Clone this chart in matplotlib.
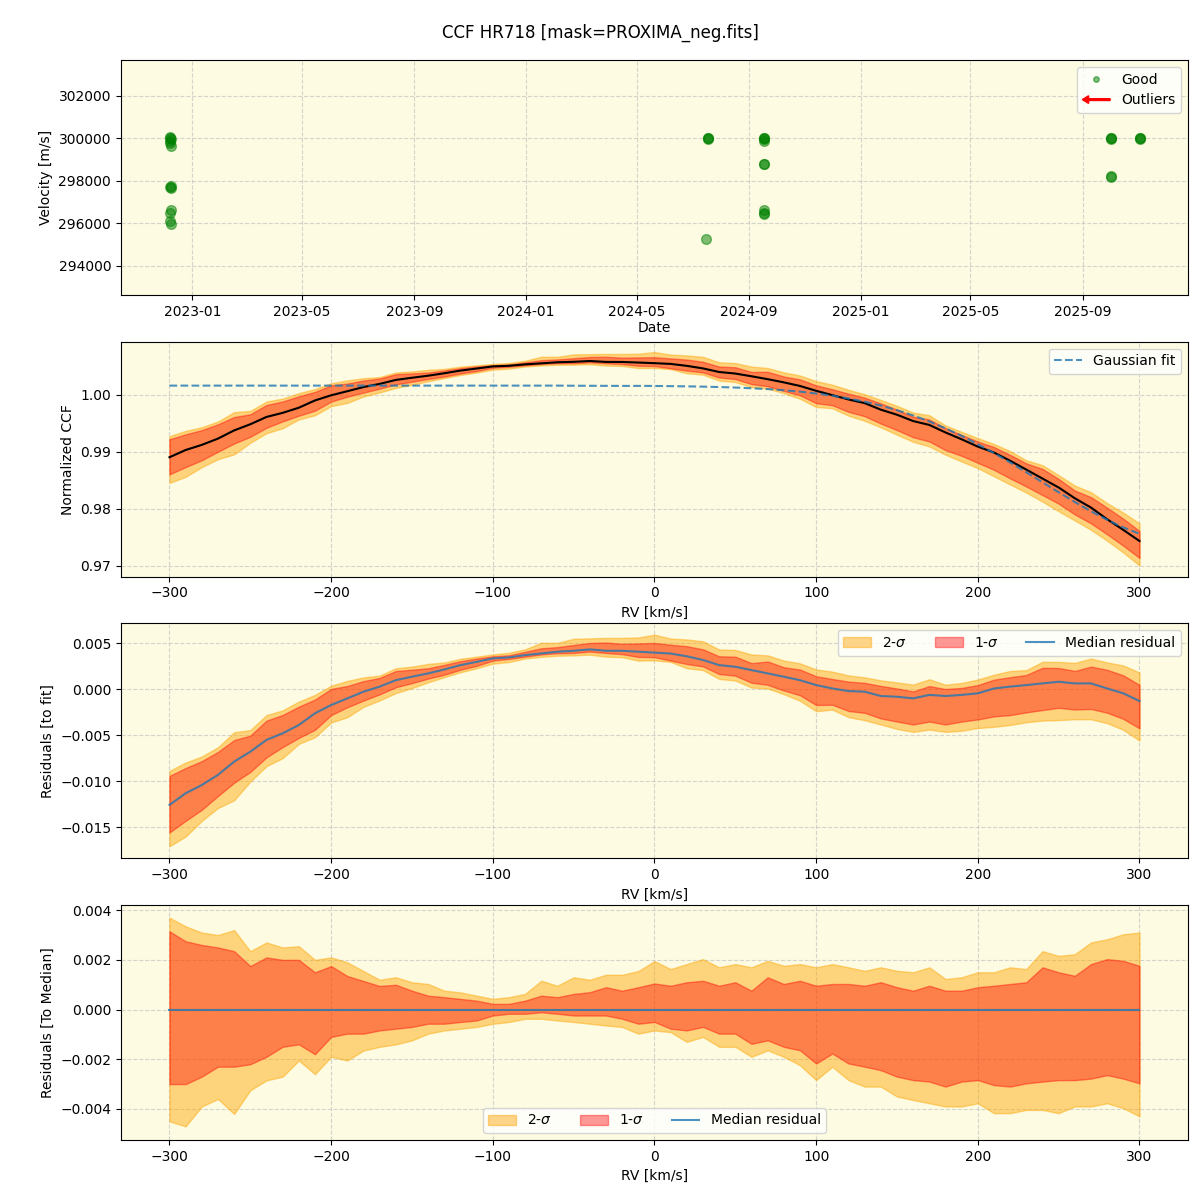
import numpy as np
import matplotlib
matplotlib.use("Agg")
import matplotlib.pyplot as plt
import matplotlib.dates as mdates
import matplotlib.patches as mpatches
from matplotlib.lines import Line2D
from matplotlib.legend_handler import HandlerPatch
import datetime as dt

# ---------------- data ----------------
obs_dates = ["2022-12-08", "2022-12-08", "2022-12-09", "2022-12-08", "2022-12-08", "2022-12-09",
             "2022-12-09", "2022-12-08", "2022-12-09", "2022-12-09", "2022-12-08", "2022-12-08",
             "2022-12-09",
             "2024-07-18", "2024-07-18", "2024-07-18", "2024-07-16",
             "2024-09-17", "2024-09-17", "2024-09-17", "2024-09-17", "2024-09-17", "2024-09-17",
             "2024-09-17", "2024-09-17", "2024-09-17",
             "2025-10-02", "2025-10-02", "2025-10-02", "2025-10-02", "2025-10-02",
             "2025-11-02", "2025-11-02", "2025-11-02"]
obs_vel = [300000, 300050, 299980, 299900, 299800, 299650, 297750, 297700, 297650, 296650,
           296500, 296100, 295950,
           300000, 300020, 299980, 295270,
           300000, 300030, 299980, 299900, 298800, 298780, 296650, 296500, 296420,
           300000, 300020, 299980, 298220, 298180,
           300000, 300020, 299980]

rv = [-300, -290, -280, -270, -260, -250, -240, -230, -220, -210, -200, -190, -180, -170,
      -160, -150, -140, -130, -120, -110, -100, -90, -80, -70, -60, -50, -40, -30, -20, -10,
      0, 10, 20, 30, 40, 50, 60, 70, 80, 90, 100, 110, 120, 130, 140, 150, 160, 170, 180,
      190, 200, 210, 220, 230, 240, 250, 260, 270, 280, 290, 300]

gauss_fit = [1.0016, 1.0016, 1.0016, 1.0016, 1.0016, 1.0016, 1.0016, 1.0016, 1.0016, 1.0016,
             1.0016, 1.0016, 1.0016, 1.0016, 1.0016, 1.0016, 1.0016, 1.0016, 1.0016, 1.0016,
             1.0016, 1.0016, 1.0016, 1.0016, 1.0016, 1.00158, 1.00157, 1.00156, 1.00155, 1.00155,
             1.00154, 1.00151, 1.00147, 1.00142, 1.00135, 1.00126, 1.00114, 1.00099, 1.00079,
             1.00054, 1.00022, 0.99983, 0.99935, 0.99878, 0.9981, 0.99729, 0.99636, 0.9953,
             0.9941, 0.99278, 0.99132, 0.98976, 0.98811, 0.98639, 0.98464, 0.98289, 0.98118,
             0.97955, 0.97805, 0.97671, 0.9756]

median_resid = [-0.01257, -0.0113, -0.0104, -0.0093, -0.00786, -0.00678, -0.0055, -0.00478,
                -0.00388, -0.0026, -0.0017, -0.00098, -0.00025, 0.0003, 0.0010, 0.00138,
                0.00174, 0.00217, 0.00264, 0.0030, 0.00337, 0.00348, 0.00373, 0.00391, 0.0041,
                0.0042, 0.00435, 0.0042, 0.0042, 0.0041, 0.0040, 0.0039, 0.0036, 0.0032,
                0.00264, 0.00246, 0.0021, 0.00174, 0.00138, 0.0010, 0.00047, 0.0001, -0.00018,
                -0.00025, -0.00072, -0.0008, -0.00098, -0.0006, -0.00072, -0.0006, -0.00043,
                0.0001, 0.0003, 0.00047, 0.00065, 0.00083, 0.00065, 0.00065, 0.0001, -0.00043,
                -0.00127]

# offsets of the percentile bands relative to the median
hi2 = [0.0037, 0.00335, 0.0031, 0.0030, 0.0032, 0.00235, 0.0027, 0.0025, 0.00255, 0.0020,
       0.0021, 0.0019, 0.00155, 0.0012, 0.0013, 0.0011, 0.00103, 0.00076, 0.00069, 0.00056,
       0.00043, 0.0005, 0.00063, 0.00116, 0.00096, 0.0013, 0.0012, 0.0014, 0.0014, 0.00155,
       0.00195, 0.00163, 0.00183, 0.00203, 0.0017, 0.00183, 0.0017, 0.00196, 0.00176, 0.00183,
       0.0017, 0.00183, 0.0017, 0.00156, 0.0017, 0.00156, 0.0015, 0.0017, 0.00123, 0.0013,
       0.0015, 0.0015, 0.0017, 0.00163, 0.00235, 0.00216, 0.00223, 0.0027, 0.00283, 0.00303,
       0.0031]
hi1 = [0.00315, 0.00275, 0.0026, 0.0025, 0.00235, 0.00175, 0.0021, 0.0020, 0.0020, 0.0015,
       0.00175, 0.00135, 0.00115, 0.00095, 0.0010, 0.00076, 0.00056, 0.0005, 0.00043, 0.00036,
       0.00023, 0.00023, 0.00036, 0.00056, 0.0005, 0.00063, 0.0007, 0.0009, 0.00076, 0.0009,
       0.00105, 0.00096, 0.0011, 0.00116, 0.00096, 0.0011, 0.00076, 0.0013, 0.00103, 0.00116,
       0.00096, 0.00103, 0.00103, 0.00096, 0.0011, 0.0009, 0.00076, 0.00096, 0.00076, 0.00076,
       0.0009, 0.00096, 0.00103, 0.0011, 0.0017, 0.0015, 0.00136, 0.00183, 0.00203, 0.00196,
       0.00176]
lo1 = [-0.0030, -0.0030, -0.0027, -0.0023, -0.0023, -0.0022, -0.0019, -0.0015, -0.0014, -0.0018,
       -0.0011, -0.00097, -0.00097, -0.00084, -0.00077, -0.0007, -0.00057, -0.00057, -0.0005,
       -0.00044, -0.00024, -0.00017, -0.00017, -0.00011, -0.00017, -0.00024, -0.00024, -0.00024,
       -0.00037, -0.00057, -0.0005, -0.00077, -0.00084, -0.0007, -0.00097, -0.00097, -0.00138,
       -0.00124, -0.0015, -0.00164, -0.00217, -0.00177, -0.00217, -0.0023, -0.00244, -0.0027,
       -0.00284, -0.0029, -0.0031, -0.0029, -0.00284, -0.00304, -0.0031, -0.00297, -0.0029,
       -0.00284, -0.00284, -0.00278, -0.00264, -0.00278, -0.00297]
lo2 = [-0.0045, -0.0047, -0.0039, -0.0036, -0.0042, -0.00325, -0.00285, -0.0027, -0.00205,
       -0.0026, -0.0019, -0.00205, -0.00165, -0.0015, -0.0014, -0.00124, -0.00097, -0.00084,
       -0.00077, -0.0007, -0.00057, -0.0005, -0.00037, -0.00037, -0.00044, -0.0005, -0.00057,
       -0.00064, -0.0007, -0.00097, -0.00084, -0.00091, -0.0013, -0.0011, -0.0015, -0.0015,
       -0.0019, -0.00164, -0.0019, -0.00224, -0.00284, -0.0023, -0.00284, -0.0031, -0.0031,
       -0.0035, -0.00364, -0.00377, -0.0039, -0.0039, -0.00377, -0.00417, -0.00417, -0.00404,
       -0.00404, -0.00417, -0.0039, -0.0039, -0.00377, -0.00397, -0.0043]

# ---------------- plotting ----------------
rv_a = np.array(rv)
fit_a = np.array(gauss_fit)
res_a = np.array(median_resid)
ccf_a = fit_a + res_a
hi2_a, hi1_a, lo1_a, lo2_a = map(np.array, (hi2, hi1, lo1, lo2))

BG = "#FDFBE2"
C2 = "orange"
C1 = "red"
A2 = 0.45
A1 = 0.4

fig, axes = plt.subplots(4, 1, figsize=(12, 12), dpi=100)
fig.subplots_adjust(left=0.1008, right=0.99, top=0.95, bottom=0.05, hspace=0.2)
fig.suptitle("CCF HR718 [mask=PROXIMA_neg.fits]", fontsize=12, y=0.98)

for ax in axes:
    ax.set_facecolor(BG)
    ax.grid(True, linestyle="--", color="#bbbbbb", alpha=0.6, linewidth=0.8)
    ax.set_axisbelow(True)

# Panel 1
ax = axes[0]
d = [dt.datetime.strptime(s, "%Y-%m-%d") for s in obs_dates]
ax.plot(d, obs_vel, "o", color="green", alpha=0.5, markersize=7, linestyle="none")
ax.set_ylim(292635, 303694)
ax.set_xlim(dt.datetime(2022, 10, 15), dt.datetime(2025, 12, 25))
ax.xaxis.set_major_locator(mdates.MonthLocator(bymonth=[1, 5, 9]))
ax.xaxis.set_major_formatter(mdates.DateFormatter("%Y-%m"))
ax.set_xlabel("Date", labelpad=2)
ax.set_ylabel("Velocity [m/s]")


def make_arrow(legend, orig_handle, xdescent, ydescent, width, height, fontsize):
    return mpatches.FancyArrow(width, 0.5 * height, -width, 0, length_includes_head=True,
                               width=1.3, head_width=5.5, head_length=4.5, color="red")


good_h = Line2D([], [], marker="o", color="green", alpha=0.5, markersize=4, linestyle="none")
out_h = mpatches.FancyArrow(0, 0, 1, 0, color="red")
ax.legend([good_h, out_h], ["Good", "Outliers"], loc="upper right",
          handler_map={mpatches.FancyArrow: HandlerPatch(patch_func=make_arrow)})

# Panel 2
ax = axes[1]
ax.fill_between(rv_a, ccf_a + lo2_a, ccf_a + hi2_a, color=C2, alpha=A2)
ax.fill_between(rv_a, ccf_a + lo1_a, ccf_a + hi1_a, color=C1, alpha=A1)
ax.plot(rv_a, ccf_a, color="black", lw=1.5)
ax.plot(rv_a, fit_a, "--", color="C0", alpha=0.8, lw=1.5, label="Gaussian fit")
ax.set_ylim(0.9681, 1.0093)
ax.set_xlim(-330, 330)
ax.set_xlabel("RV [km/s]")
ax.set_ylabel("Normalized CCF")
ax.legend(loc="upper right")

# Panel 3
ax = axes[2]
ax.fill_between(rv_a, res_a + lo2_a, res_a + hi2_a, color=C2, alpha=A2, label="2-$\\sigma$")
ax.fill_between(rv_a, res_a + lo1_a, res_a + hi1_a, color=C1, alpha=A1, label="1-$\\sigma$")
ax.plot(rv_a, res_a, color="C0", alpha=0.8, lw=1.5, label="Median residual")
ax.set_ylim(-0.01837, 0.00717)
ax.set_xlim(-330, 330)
ax.set_xlabel("RV [km/s]")
ax.set_ylabel("Residuals [to fit]")
ax.legend(loc="upper right", ncol=3)

# Panel 4
ax = axes[3]
zero = np.zeros_like(rv_a, dtype=float)
ax.fill_between(rv_a, lo2_a, hi2_a, color=C2, alpha=A2, label="2-$\\sigma$")
ax.fill_between(rv_a, lo1_a, hi1_a, color=C1, alpha=A1, label="1-$\\sigma$")
ax.plot(rv_a, zero, color="C0", alpha=0.8, lw=1.5, label="Median residual")
ax.set_ylim(-0.00525, 0.0042)
ax.set_xlim(-330, 330)
ax.set_xlabel("RV [km/s]")
ax.set_ylabel("Residuals [To Median]")
ax.legend(loc="lower center", ncol=3)

fig.savefig("out.png", dpi=100)
